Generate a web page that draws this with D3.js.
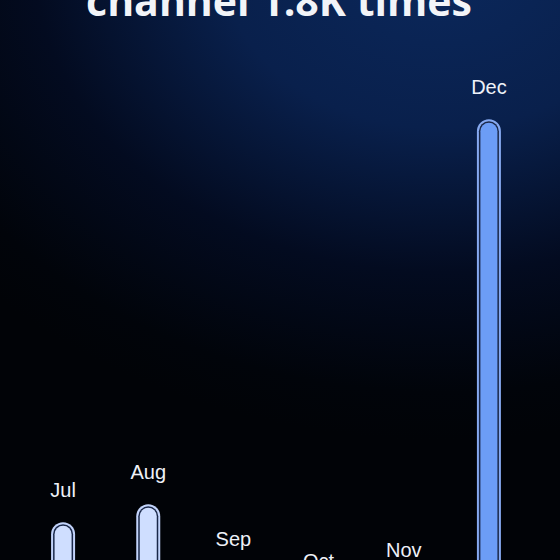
<!DOCTYPE html>
<html>
<head>
<meta charset="utf-8">
<script src="https://cdn.jsdelivr.net/npm/d3@7"></script>
<style>
html,body{margin:0;padding:0;background:#000;overflow:hidden;}
svg{display:block;}
</style>
</head>
<body>
<script>
// Data
const months = ["Jul", "Aug", "Sep", "Oct", "Nov", "Dec"];
const mentions = [224, 258, 131, 89, 110, 990];
const highlight = ["Dec"];
const titleLine = "channel 1.8K times";

const W = 560, H = 560;
const svg = d3.select("body").append("svg").attr("width", W).attr("height", H);
const defs = svg.append("defs");
const rg = defs.append("radialGradient").attr("id", "bg")
  .attr("gradientUnits", "userSpaceOnUse")
  .attr("cx", 440).attr("cy", -40).attr("r", 480)
  .attr("gradientTransform", "translate(440,-40) scale(1.3,1) translate(-440,40)");
rg.append("stop").attr("offset", 0).attr("stop-color", "#0b285c");
rg.append("stop").attr("offset", 0.35).attr("stop-color", "#09204c");
rg.append("stop").attr("offset", 0.65).attr("stop-color", "#030b20");
rg.append("stop").attr("offset", 0.9).attr("stop-color", "#01040a");
rg.append("stop").attr("offset", 1).attr("stop-color", "#010307");
svg.append("rect").attr("width", W).attr("height", H).attr("fill", "url(#bg)");

// Scales
const x = d3.scaleBand().domain(months).range([20.5, 531.5]).paddingInner(0.72).paddingOuter(0.36);
const y = d3.scaleLinear().domain([0, 1000]).range([640, 114]);

const bw = 24;
const g = svg.append("g");
const bars = g.selectAll("g.bar").data(months.map((m, i) => ({m, v: mentions[i]}))).join("g").attr("class", "bar");

function topRounded(xl, yt, w, h) {
  const r = w / 2;
  return `M${xl},${yt + h} V${yt + r} A${r},${r} 0 0 1 ${xl + w},${yt + r} V${yt + h} Z`;
}
bars.each(function(d) {
  const sel = d3.select(this);
  const cx = x(d.m) + x.bandwidth() / 2;
  const yt = y(d.v);
  const hi = highlight.includes(d.m);
  const outer = hi ? "#86a9f0" : "#c3d4fb";
  const fill = hi ? "#6c9df6" : "#cfdeff";
  const h = 800;
  sel.append("path").attr("d", topRounded(cx - bw / 2, yt, bw, h)).attr("fill", outer);
  sel.append("path").attr("d", topRounded(cx - bw / 2 + 2, yt + 2, bw - 4, h)).attr("fill", "#1a2849");
  sel.append("path").attr("d", topRounded(cx - bw / 2 + 3.5, yt + 3.5, bw - 7, h)).attr("fill", fill);
  sel.append("text").attr("x", cx).attr("y", yt - 25)
    .attr("text-anchor", "middle")
    .attr("font-family", "Liberation Sans, Arial, sans-serif")
    .attr("font-size", 20)
    .attr("fill", "#eef1f8")
    .text(d.m);
});

// Title (last line, partly above view)
const t = svg.append("text").attr("x", 279).attr("y", 15.5)
  .attr("text-anchor", "middle")
  .attr("font-family", "Open Sans, Noto Sans, sans-serif")
  .attr("font-weight", 700)
  .attr("font-size", 40)
  .attr("fill", "#f2f4f8")
  .text(titleLine);
const len = t.node().getComputedTextLength();
t.attr("font-size", 40 * 386 / len);
</script>
</body>
</html>
